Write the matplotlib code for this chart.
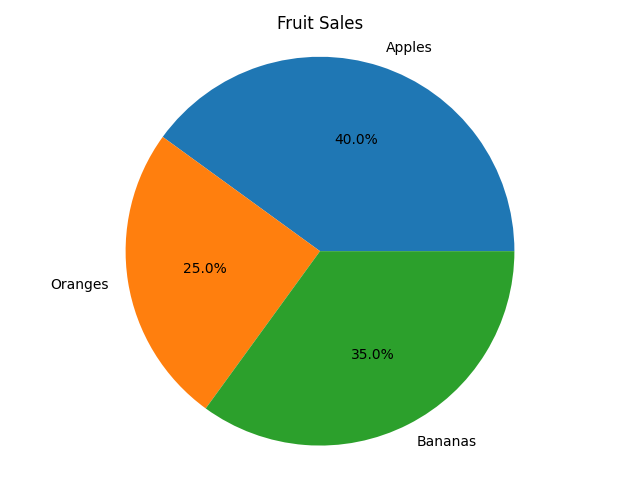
import matplotlib
matplotlib.use("Agg")
import matplotlib.pyplot as plt

labels = ["Apples", "Oranges", "Bananas"]
values = [40, 25, 35]

fig, ax = plt.subplots(figsize=(6.4, 4.8), dpi=100)
ax.pie(values, labels=labels, autopct="%1.1f%%")
ax.set_title("Fruit Sales")
ax.axis("equal")
fig.tight_layout()
fig.savefig("out.png")
